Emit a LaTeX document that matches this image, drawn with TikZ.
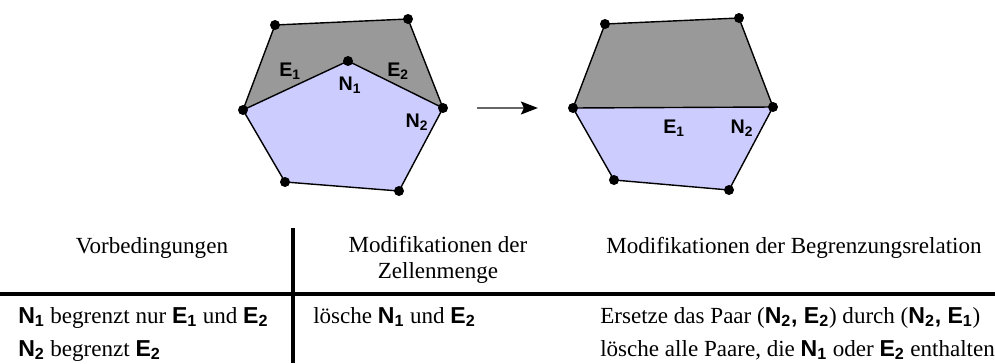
\documentclass[tikz,border=0pt]{standalone}
\usepackage{fontspec}
\setmainfont{Liberation Serif}
\newfontfamily\lsans{Liberation Sans}
\usetikzlibrary{arrows.meta}
\definecolor{zellgrau}{RGB}{153,153,153}
\definecolor{zellblau}{RGB}{204,204,255}
\newcommand{\bz}[2]{{\lsans\bfseries #1\textsubscript{#2}}}
\tikzset{
  kante/.style={black, line width=1pt, line join=round},
  punkt/.style={fill=black},
  lbl/.style={font=\lsans\bfseries\fontsize{14}{16}\selectfont, inner sep=0pt},
  tabtext/.style={font=\fontsize{16.4}{18}\selectfont, inner sep=0pt},
  tablinie/.style={black, line width=2.4pt}
}
\begin{document}
\begin{tikzpicture}[x=0.025cm, y=-0.025cm]
        \useasboundingbox (0,0) rectangle (995,363);

        % LINKS: Zellen vor der Modifikation
        \coordinate (aTL) at (275,25);
        \coordinate (aTR) at (408,19);
        \coordinate (aR)  at (443,108);
        \coordinate (aBR) at (399,191);
        \coordinate (aBL) at (285,182);
        \coordinate (aL)  at (243,110);
        \coordinate (aN)  at (348,61);

        % graue Zelle (oben) und blaue Zelle (unten)
        \fill[zellgrau] (aL) -- (aTL) -- (aTR) -- (aR) -- (aN) -- cycle;
        \fill[zellblau] (aL) -- (aN) -- (aR) -- (aBR) -- (aBL) -- cycle;

        % Kanten
        \draw[kante] (aL) -- (aTL) -- (aTR) -- (aR) -- (aBR) -- (aBL) -- cycle;
        \draw[kante] (aL) -- (aN) -- (aR);

        % Knoten
        \foreach \p in {aTL,aTR,aR,aBR,aBL,aL,aN}
            \fill[punkt] (\p) circle (5);

        % Beschriftung
        \node[lbl] (aE1) at (290,71) {E\textsubscript{1}};
        \node[lbl] (aN1) at (350,85) {N\textsubscript{1}};
        \node[lbl] (aE2) at (398,71) {E\textsubscript{2}};
        \node[lbl] (aN2) at (417,122) {N\textsubscript{2}};

        % Pfeil
        \coordinate (pfA) at (477,108);
        \coordinate (pfB) at (538,108);
        \draw[line width=2pt, black!60, -{Stealth[length=12pt, width=9pt, inset=2pt, color=black]}] (pfA) -- (pfB);

        % RECHTS: Zellen nach der Modifikation
        \coordinate (bTL) at (605,24);
        \coordinate (bTR) at (739,18);
        \coordinate (bR)  at (773,107);
        \coordinate (bBR) at (729,190);
        \coordinate (bBL) at (614,180);
        \coordinate (bL)  at (573,108);

        \fill[zellgrau] (bL) -- (bTL) -- (bTR) -- (bR) -- cycle;
        \fill[zellblau] (bL) -- (bR) -- (bBR) -- (bBL) -- cycle;

        \draw[kante] (bL) -- (bTL) -- (bTR) -- (bR) -- (bBR) -- (bBL) -- cycle;
        \draw[kante] (bL) -- (bR);

        \foreach \p in {bTL,bTR,bR,bBR,bBL,bL}
            \fill[punkt] (\p) circle (5);

        \node[lbl] (bE1) at (674,128) {E\textsubscript{1}};
        \node[lbl] (bN2) at (742,128) {N\textsubscript{2}};

        % Tabelle: Linien
        \coordinate (vO) at (293,228);
        \coordinate (vU) at (293,363);
        \coordinate (hL) at (0,294);
        \coordinate (hR) at (995,294);
        \draw[tablinie] (vO) -- (vU);
        \draw[tablinie] (hL) -- (hR);

        % Tabelle: Kopfzeile
        \node[tabtext, anchor=base] (kVor) at (152,253) {Vorbedingungen};
        \node[tabtext, anchor=base, align=center] (kZell) at (438,278) {Modifikationen der\\Zellenmenge};
        \node[tabtext, anchor=base] (kBeg) at (794,253) {Modifikationen der Begrenzungsrelation};

        % Tabelle: Zeilen
        \node[tabtext, anchor=base west] (vor1) at (18,323)
            {\bz{N}{1} begrenzt nur \bz{E}{1} und \bz{E}{2}};
        \node[tabtext, anchor=base west] (vor2) at (18,356)
            {\bz{N}{2} begrenzt \bz{E}{2}};
        \node[tabtext, anchor=base west] (zell1) at (313,323)
            {lösche \bz{N}{1} und \bz{E}{2}};
        \node[tabtext, anchor=base west] (beg1) at (600,323)
            {Ersetze das Paar ({\lsans\bfseries N\textsubscript{2}, E\textsubscript{2}}) durch ({\lsans\bfseries N\textsubscript{2}, E\textsubscript{1}})};
        \node[tabtext, anchor=base west] (beg2) at (600,356)
            {lösche alle Paare, die \bz{N}{1} oder \bz{E}{2} enthalten};

    \end{tikzpicture}
\end{document}
